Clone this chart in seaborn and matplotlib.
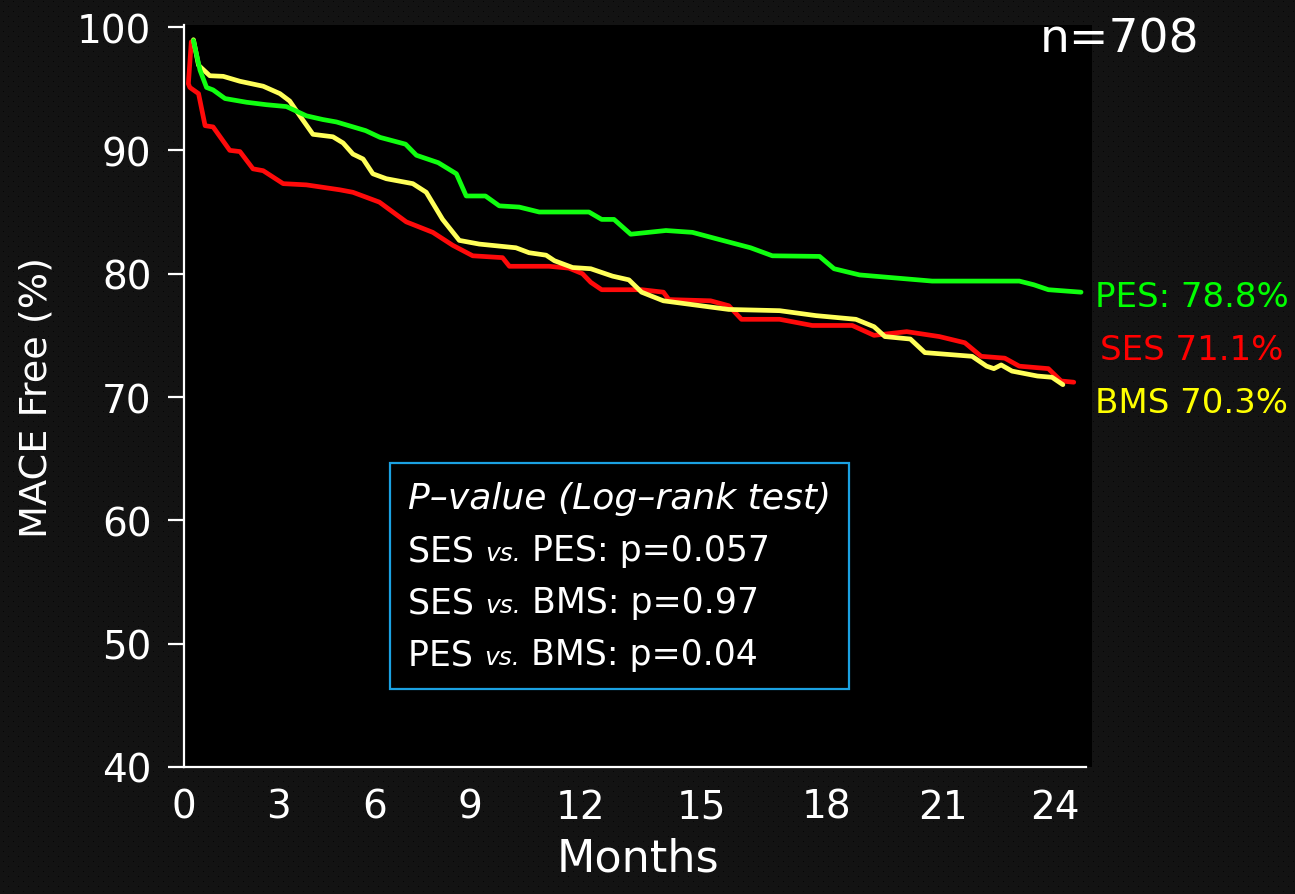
import numpy as np
import pandas as pd
import matplotlib
matplotlib.use("Agg")
import matplotlib.pyplot as plt
import seaborn as sns
from matplotlib.offsetbox import TextArea, HPacker, VPacker, AnnotationBbox

# Kaplan-Meier style curves (months, % MACE free)
pes_t = [0.26, 0.44, 0.62, 0.8, 1.13, 1.72, 2.27, 2.82, 3.37, 3.82, 4.2, 5.0, 5.4, 6.1, 6.4,
         7.0, 7.5, 7.77, 8.3, 8.68, 9.23, 9.78, 11.15, 11.5, 11.84, 12.3, 13.27, 14.0, 14.7,
         15.6, 16.2, 17.5, 17.9, 18.6, 20.6, 23.0, 23.4, 23.8, 24.7]
pes_v = [98.9, 96.5, 95.1, 94.9, 94.2, 93.9, 93.7, 93.55, 92.8, 92.5, 92.3, 91.6, 91.05, 90.5, 89.6,
         89.0, 88.1, 86.3, 86.3, 85.5, 85.4, 85.0, 85.0, 84.4, 84.4, 83.2, 83.5, 83.35, 82.8,
         82.1, 81.45, 81.4, 80.4, 79.9, 79.4, 79.4, 79.1, 78.7, 78.5]

ses_t = [0.2, 0.12, 0.16, 0.4, 0.58, 0.8, 1.26, 1.54, 1.9, 2.18, 2.73, 3.37, 4.29, 4.65, 5.38,
         6.12, 6.85, 7.4, 7.95, 8.77, 8.96, 10.05, 10.6, 10.97, 11.2, 11.5, 12.6, 13.2, 13.35,
         14.5, 15.0, 15.35, 16.4, 17.3, 18.4, 19.0, 19.9, 20.8, 21.5, 21.95, 22.6, 23.0, 23.8,
         24.15, 24.5]
ses_v = [98.8, 95.4, 95.1, 94.6, 92.0, 91.9, 90.0, 89.9, 88.5, 88.35, 87.3, 87.2, 86.8, 86.6, 85.8,
         84.2, 83.35, 82.3, 81.45, 81.3, 80.6, 80.6, 80.45, 80.0, 79.3, 78.7, 78.7, 78.5, 77.9,
         77.8, 77.4, 76.3, 76.3, 75.8, 75.8, 75.0, 75.3, 74.9, 74.4, 73.3, 73.15, 72.5, 72.3,
         71.3, 71.2]

bms_t = [0.26, 0.4, 0.71, 1.08, 1.54, 2.18, 2.64, 2.91, 3.19, 3.55, 4.1, 4.38, 4.65, 4.93, 5.2,
         5.57, 6.3, 6.67, 7.12, 7.58, 8.13, 9.14, 9.5, 9.97, 10.2, 10.7, 11.2, 11.8, 12.25,
         12.6, 13.2, 14.1, 15.0, 16.4, 17.4, 18.5, 19.0, 19.3, 20.0, 20.4, 21.7, 22.1, 22.3,
         22.5, 22.8, 23.5, 23.9, 24.2]
bms_v = [98.97, 96.9, 96.05, 96.0, 95.6, 95.2, 94.6, 94.0, 92.8, 91.3, 91.1, 90.6, 89.7, 89.3, 88.1,
         87.7, 87.3, 86.6, 84.4, 82.7, 82.4, 82.1, 81.7, 81.5, 81.05, 80.5, 80.4, 79.8, 79.5,
         78.5, 77.8, 77.45, 77.1, 77.0, 76.6, 76.3, 75.7, 74.9, 74.7, 73.6, 73.3, 72.5, 72.3,
         72.6, 72.1, 71.7, 71.6, 71.0]

# the month labels in the original sit unevenly along the axis
month_tick_pos = [0, 2.59, 5.24, 7.88, 10.91, 14.25, 17.69, 20.89, 23.97]
month_tick_lab = ["0", "3", "6", "9", "12", "15", "18", "21", "24"]

groups = ["SES", "BMS", "PES"]
end_labels = {"PES": "PES: 78.8%", "SES": "SES 71.1%", "BMS": "BMS 70.3%"}
label_y = {"PES": 77.37, "SES": 73.07, "BMS": 68.78}
line_colors = {"PES": "#10ff10", "SES": "#ff0a0a", "BMS": "#ffff5a"}
text_colors = {"PES": "#00ff00", "SES": "#ff0000", "BMS": "#ffff00"}

comparisons = [("SES", "PES", "0.057"), ("SES", "BMS", "0.97"), ("PES", "BMS", "0.04")]
n_total = 708

df = pd.concat([
    pd.DataFrame({"month": ses_t, "free": ses_v, "stent": "SES"}),
    pd.DataFrame({"month": bms_t, "free": bms_v, "stent": "BMS"}),
    pd.DataFrame({"month": pes_t, "free": pes_v, "stent": "PES"}),
], ignore_index=True)

sns.set_theme(style="ticks")
plt.rcParams["font.family"] = ["DejaVu Sans"]

fig = plt.figure(figsize=(12.95, 8.95), dpi=100, facecolor="#131313")

# faint dotted slide background
h, w = 895, 1295
bg = np.full((h, w, 3), 0.075)
rows, cols = np.mgrid[0:h, 0:w]
dots = (rows % 5 == 2) & ((cols + (rows // 5 % 2) * 5) % 10 == 3)
bg[dots] = 0.02
fig.figimage(bg, xo=0, yo=0, zorder=-1)

ax = fig.add_axes([0.1421, 0.1419, 0.7011, 0.8290])
ax.set_facecolor("black")

sns.lineplot(data=df, x="month", y="free", hue="stent", palette=line_colors,
             sort=False, estimator=None, linewidth=3.4, legend=False, ax=ax)

ax.set_xlim(0, 25)
ax.set_ylim(40, 100.16)
ax.set_xticks(month_tick_pos, month_tick_lab)
ax.set_yticks(np.arange(40, 101, 10))
for s in ["top", "right"]:
    ax.spines[s].set_visible(False)
for s in ["left", "bottom"]:
    ax.spines[s].set_color("white")
    ax.spines[s].set_linewidth(1.6)
ax.spines["bottom"].set_bounds(0, 24.85)
ax.tick_params(axis="y", colors="white", labelsize=28, length=11.5, width=1.6, pad=12)
ax.tick_params(axis="x", colors="white", labelsize=28, length=0, pad=15)
ax.set_xlabel("Months", color="white", fontsize=32, labelpad=8)
ax.set_ylabel("MACE Free (%)", color="white", fontsize=27.5, labelpad=16)

for g in groups:
    ax.text(1.110, label_y[g], end_labels[g], transform=ax.get_yaxis_transform(),
            ha="center", va="baseline", fontsize=24.5, color=text_colors[g], clip_on=False)

fig.text(0.8649, 0.9408, f"n={n_total}", ha="center", va="baseline", fontsize=34, color="white")

# p-value box
main = dict(color="white", size=25)
small_it = dict(color="white", size=18, style="italic")
title = TextArea("P\u2013value (Log\u2013rank test)", textprops=dict(color="white", size=26, style="italic"))
rows_box = [title]
for a, b, p in comparisons:
    rows_box.append(HPacker(children=[TextArea(a + " ", textprops=main),
                                      TextArea("vs.", textprops=small_it),
                                      TextArea(" " + b + ": p=" + p, textprops=main)],
                            align="baseline", pad=0, sep=0))
box = VPacker(children=rows_box, align="left", pad=0, sep=13)
ab = AnnotationBbox(box, (0.2467, 0.3854), xycoords="axes fraction", box_alignment=(0, 1),
                    frameon=True, pad=1.3, fontsize=10,
                    bboxprops=dict(edgecolor="#1ba1e2", facecolor="black", linewidth=1.6))
ax.add_artist(ab)

fig.savefig("out.png", dpi=100, facecolor=fig.get_facecolor())
